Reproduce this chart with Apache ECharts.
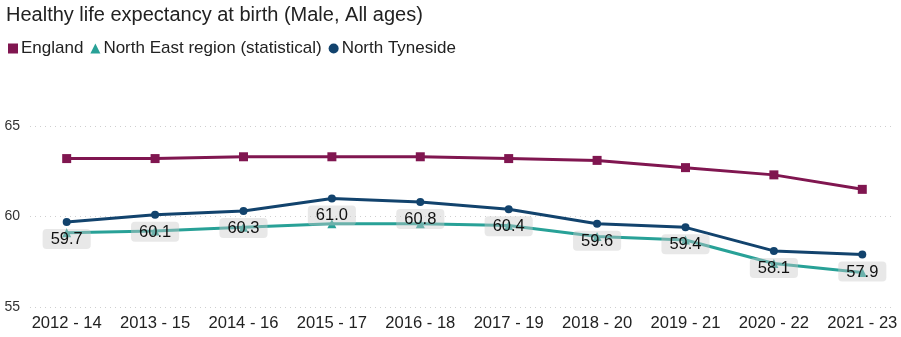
<!DOCTYPE html>
<html><head><meta charset="utf-8">
<script src="https://cdn.jsdelivr.net/npm/echarts@6/dist/echarts.min.js"></script>
<style>html,body{margin:0;padding:0;background:#fff}#c{width:901px;height:337px}</style>
</head><body><div id="c"></div>
<script>
const categories = ['2012 - 14','2013 - 15','2014 - 16','2015 - 17','2016 - 18','2017 - 19','2018 - 20','2019 - 21','2020 - 22','2021 - 23'];
const england = [63.2, 63.2, 63.3, 63.3, 63.3, 63.2, 63.1, 62.7, 62.3, 61.5];
const northEast = [59.1, 59.2, 59.4, 59.6, 59.6, 59.5, 58.9, 58.7, 57.4, 56.9];
const northTyneside = [59.7, 60.1, 60.3, 61.0, 60.8, 60.4, 59.6, 59.4, 58.1, 57.9];
const yTicks = [55, 60, 65];

const FONT = '"Liberation Sans", Arial, sans-serif';
const idx = categories.map((c, i) => i);
const pairs = arr => arr.map((v, i) => [idx[i], v]);

const chart = echarts.init(document.getElementById('c'), null, {renderer: 'canvas'});
chart.setOption({
  animation: false,
  textStyle: {fontFamily: FONT},
  title: {
    text: 'Healthy life expectancy at birth (Male, All ages)',
    left: 1, top: 0,
    textStyle: {fontFamily: FONT, fontSize: 20, fontWeight: 'normal', color: '#222'}
  },
  legend: {
    left: 3, top: 35,
    itemWidth: 10, itemHeight: 10, itemGap: 7,
    textStyle: {fontFamily: FONT, fontSize: 17, color: '#222', padding: [0, 0, 0, -2]},
    data: [
      {name: 'England', icon: 'rect'},
      {name: 'North East region (statistical)', icon: 'triangle'},
      {name: 'North Tyneside', icon: 'circle'}
    ]
  },
  grid: {left: 30, right: 6, top: 126, bottom: 30},
  xAxis: {
    type: 'value',
    min: -0.415, max: 9.37,
    axisLine: {show: false},
    axisTick: {show: false},
    splitLine: {show: false},
    axisLabel: {
      customValues: idx,
      formatter: v => categories[Math.round(v)],
      fontFamily: FONT, fontSize: 16.6, color: '#222', margin: 8
    }
  },
  yAxis: {
    type: 'value',
    min: yTicks[0], max: yTicks[yTicks.length - 1], interval: 5,
    axisLine: {show: false},
    axisTick: {show: false},
    axisLabel: {fontFamily: FONT, fontSize: 14, color: '#333', margin: 10, align: 'right'},
    splitLine: {lineStyle: {color: '#cfcfcf', type: [1, 4], width: 1}}
  },
  series: [
    {
      name: 'England', type: 'line', data: pairs(england),
      symbol: 'rect', symbolSize: 9,
      lineStyle: {color: '#801650', width: 3},
      itemStyle: {color: '#801650'},
      z: 3
    },
    {
      name: 'North East region (statistical)', type: 'line', data: pairs(northEast),
      symbol: 'triangle', symbolSize: 9,
      lineStyle: {color: '#28a197', width: 3},
      itemStyle: {color: '#28a197'},
      z: 4
    },
    {
      name: 'North Tyneside', type: 'line', data: pairs(northTyneside),
      symbol: 'circle', symbolSize: 8,
      lineStyle: {color: '#12436d', width: 3},
      itemStyle: {color: '#12436d'},
      z: 5,
      label: {
        show: true, position: 'bottom', distance: 3,
        formatter: p => p.value[1].toFixed(1),
        fontFamily: FONT, fontSize: 16.5, color: '#111',
        backgroundColor: 'rgba(200,200,200,0.42)', borderRadius: 4,
        padding: [2, 8, 1, 8], lineHeight: 17
      }
    }
  ]
});
</script></body></html>
